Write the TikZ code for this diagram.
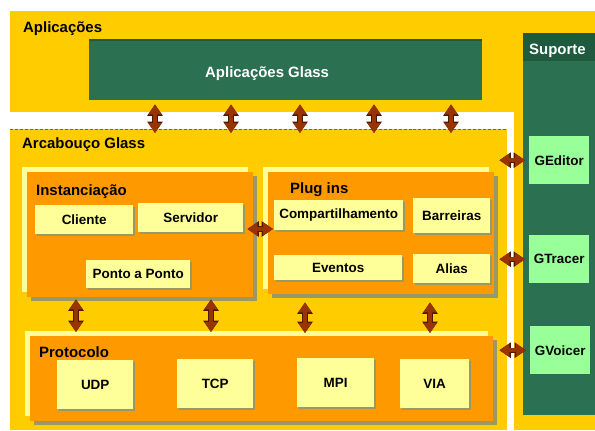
\documentclass[tikz,border=0pt]{standalone}
\usepackage{fontspec}
\setmainfont{Liberation Sans}
\usetikzlibrary{arrows.meta,calc,shadows}

\definecolor{ouro}{HTML}{FFCC00}
\definecolor{laranja}{HTML}{FF9900}
\definecolor{creme}{HTML}{FFFF99}
\definecolor{verdeesc}{HTML}{2B7050}
\definecolor{verdetopo}{HTML}{1F5A3F}
\definecolor{verdeclaro}{HTML}{99FF99}
\definecolor{sombra}{HTML}{999966}
\definecolor{marrom}{HTML}{993300}
\definecolor{marromesc}{HTML}{4D1A00}

\tikzset{
	area/.style={fill=ouro, inner sep=0, anchor=north west},
	painel/.style={fill=laranja, inner sep=0, anchor=north west,
		general shadow={fill=creme, shadow xshift=-5bp, shadow yshift=5bp},
		general shadow={fill=sombra, shadow xshift=4bp, shadow yshift=-4bp}},
	caixa/.style={fill=creme, inner sep=0, anchor=north west,
		font=\fontsize{13.5}{16}\selectfont\bfseries,
		general shadow={fill=sombra, shadow xshift=1.5bp, shadow yshift=-1.5bp}},
	ferramenta/.style={fill=verdeclaro, inner sep=0, anchor=north west,
		minimum width=60bp, minimum height=48bp,
		font=\fontsize{13.5}{16}\selectfont\bfseries},
	titulo/.style={anchor=base west, inner sep=0, font=\fontsize{15}{18}\selectfont\bfseries},
	seta/.style={line width=3.5bp, draw=marrom,
		{Triangle[width=12.5bp,length=10bp]}-{Triangle[width=12.5bp,length=10bp]},
		preaction={draw=marromesc, line width=5.2bp,
			{Triangle[width=15bp,length=11.5bp]}-{Triangle[width=15bp,length=11.5bp]}}}
}

\begin{document}
\begin{tikzpicture}[x=1bp, y=-1bp]
			%%%%% START %%%%%
			\useasboundingbox (0,0) rectangle (595,430);
			\fill[white] (0,0) rectangle (595,430);
			
			% areas
			\node[area, minimum width=504bp, minimum height=101bp] (aplarea) at (10,11) {};
			\node[area, minimum width=81bp, minimum height=419bp] (suparea) at (514,11) {};
			\node[area, minimum width=497bp, minimum height=301bp] (arcarea) at (10,129) {};
			\draw[densely dashed, black!60, line width=0.6bp] (arcarea.north west) -- (arcarea.north east);
			
			\node[titulo] (apltxt) at (23,32) {Aplicações};
			\node[titulo] (arctxt) at (22,148) {Arcabouço Glass};
			
			% aplicacoes glass
			\node[fill=verdeesc, inner sep=0, anchor=north west, minimum width=393bp, minimum height=60bp] (appglass) at (89,40) {};
			\draw[verdetopo, line width=1.5bp] (appglass.north west) -- (appglass.north east);
			\node[titulo, text=white] (appglasstxt) at (205,77) {Aplicações Glass};
			
			% suporte
			\node[fill=verdeesc, inner sep=0, anchor=north west, minimum width=72bp, minimum height=382bp] (suporte) at (523,33) {};
			\node[fill=verdetopo, inner sep=0, anchor=north west, minimum width=72bp, minimum height=28bp] (suptopo) at (523,33) {};
			\node[titulo, text=white] (suptxt) at (529,54) {Suporte};
			\node[ferramenta] (geditor) at (529,136) {GEditor};
			\node[ferramenta] (gtracer) at (529,235) {GTracer};
			\node[ferramenta] (gvoicer) at (530,326) {GVoicer};
			
			% instanciacao
			\node[painel, minimum width=226bp, minimum height=125bp] (inst) at (27,172) {};
			\node[titulo] (insttxt) at (36,195) {Instanciação};
			\node[caixa, minimum width=98bp, minimum height=29bp] (cliente) at (35,205) {Cliente};
			\node[caixa, minimum width=105bp, minimum height=29bp] (servidor) at (138,203) {Servidor};
			\node[caixa, minimum width=104bp, minimum height=28bp] (p2p) at (86,260) {Ponto a Ponto};
			
			% plug ins
			\node[painel, minimum width=226bp, minimum height=122bp] (plug) at (268,172) {};
			\node[titulo] (plugtxt) at (290,193) {Plug ins};
			\node[caixa, minimum width=129bp, minimum height=30bp] (compart) at (274,200) {Compartilhamento};
			\node[caixa, minimum width=77bp, minimum height=35bp] (barreiras) at (413,198) {Barreiras};
			\node[caixa, minimum width=128bp, minimum height=25bp] (eventos) at (274,255) {Eventos};
			\node[caixa, minimum width=77bp, minimum height=29bp] (alias) at (413,254) {Alias};
			
			% protocolo
			\node[painel, minimum width=463bp, minimum height=85bp] (proto) at (30,336) {};
			\node[titulo] (prototxt) at (39,357) {Protocolo};
			\node[caixa, minimum width=76bp, minimum height=49bp] (udp) at (57,360) {UDP};
			\node[caixa, minimum width=76bp, minimum height=49bp] (tcp) at (177,359) {TCP};
			\node[caixa, minimum width=77bp, minimum height=49bp] (mpi) at (297,358) {MPI};
			\node[caixa, minimum width=69bp, minimum height=49bp] (via) at (400,359) {VIA};
			
			% setas
			\foreach \x in {155,231,300,374,451}
				\draw[seta] ($(\x,0 |- appglass.south)+(0,4)$) -- ($(\x,0 |- arcarea.north)+(0,4)$);
			\foreach \x in {76,211}
				\draw[seta] ($(\x,0 |- inst.south)+(0,2)$) -- ($(\x,0 |- proto.north)+(0,-4)$);
			\foreach \x in {305,430}
				\draw[seta] ($(\x,0 |- plug.south)+(0,8)$) -- ($(\x,0 |- proto.north)+(0,-3)$);
			\draw[seta] ($(inst.east |- 0,229)+(-6,0)$) -- ($(plug.west |- 0,229)+(5,0)$);
			\foreach \t in {geditor,gtracer,gvoicer}
				\draw[seta] ($(arcarea.east |- \t.west)+(-8,0)$) -- ($(\t.west)+(-4,0)$);
			%%%%% END %%%%%
\end{tikzpicture}
\end{document}
